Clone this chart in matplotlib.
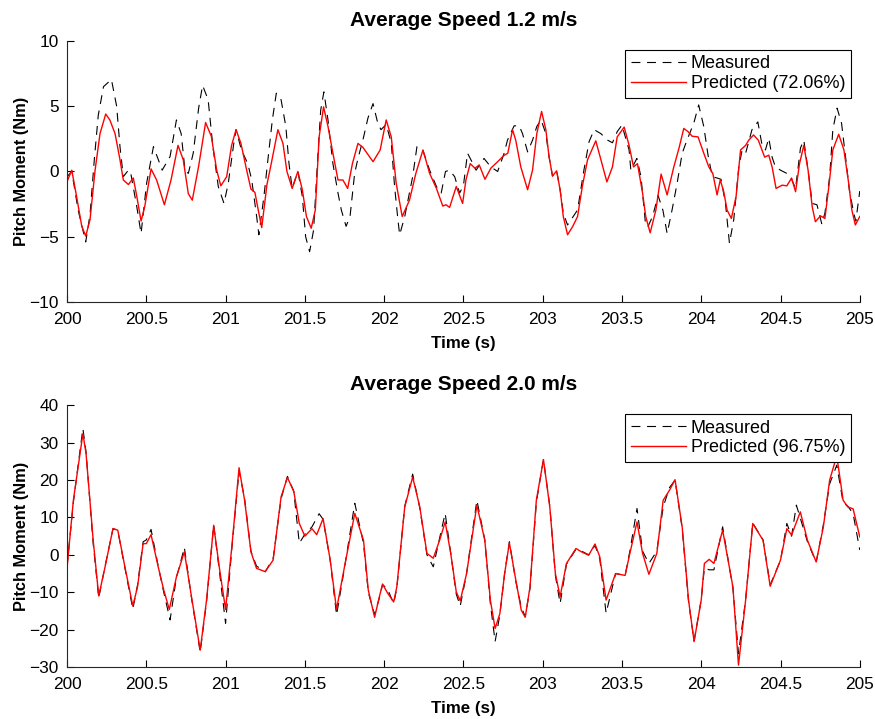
import matplotlib
matplotlib.use('Agg')
import matplotlib.pyplot as plt
import numpy as np

plt.rcParams['font.family'] = ['Liberation Sans', 'DejaVu Sans']

# --- top panel: average speed 1.2 m/s ---
t_meas1 = [200.000, 200.030, 200.070, 200.118, 200.145, 200.172, 200.197, 200.230, 200.280, 200.313,
           200.334, 200.355, 200.387, 200.400, 200.440, 200.467, 200.502, 200.545, 200.576, 200.600,
           200.650, 200.690, 200.720, 200.744, 200.765, 200.796, 200.830, 200.855, 200.890, 200.920,
           200.954, 200.990, 201.017, 201.050, 201.066, 201.100, 201.140, 201.165, 201.196, 201.210,
           201.242, 201.267, 201.295, 201.320, 201.350, 201.380, 201.400, 201.420, 201.456, 201.484,
           201.505, 201.530, 201.555, 201.583, 201.600, 201.620, 201.646, 201.677, 201.709, 201.730,
           201.760, 201.785, 201.814, 201.835, 201.866, 201.898, 201.930, 201.960, 201.980, 202.013,
           202.045, 202.066, 202.087, 202.098, 202.130, 202.180, 202.207, 202.245, 202.287, 202.330,
           202.360, 202.387, 202.413, 202.445, 202.476, 202.500, 202.526, 202.560, 202.580, 202.630,
           202.673, 202.716, 202.757, 202.778, 202.820, 202.852, 202.873, 202.905, 202.936, 202.963,
           202.990, 203.020, 203.040, 203.062, 203.088, 203.110, 203.130, 203.157, 203.220, 203.260,
           203.293, 203.325, 203.367, 203.410, 203.440, 203.470, 203.500, 203.545, 203.556, 203.594,
           203.620, 203.650, 203.665, 203.693, 203.728, 203.758, 203.785, 203.816, 203.848, 203.880,
           203.910, 203.953, 203.984, 204.016, 204.043, 204.070, 204.100, 204.125, 204.153, 204.178,
           204.205, 204.237, 204.258, 204.280, 204.320, 204.357, 204.384, 204.405, 204.426, 204.447,
           204.468, 204.500, 204.540, 204.563, 204.595, 204.626, 204.647, 204.674, 204.700, 204.730,
           204.760, 204.780, 204.810, 204.830, 204.857, 204.885, 204.910, 204.934, 204.962, 204.975,
           205.000]
v_meas1 = [-0.4, 0.0, -2.95, -5.4, -3.3, 0.9, 4.3, 6.5, 7.05, 5.0,
           1.9, -0.4, 0.1, 0.0, -2.7, -4.75, -0.9, 1.9, 0.9, 0.1,
           1.15, 3.95, 2.9, 0.1, -0.15, 1.4, 4.85, 6.6, 5.5, 1.9,
           -1.15, -2.45, -0.9, 2.0, 3.2, 1.65, 0.6, -0.65, -3.45, -4.85,
           -1.9, 0.9, 3.95, 6.0, 5.5, 3.45, 0.6, -1.3, 0.0, -1.9,
           -5.0, -6.15, -4.5, 1.4, 4.7, 6.1, 3.95, 0.6, -1.65, -2.95,
           -4.2, -3.45, -0.15, 1.0, 2.4, 4.1, 5.2, 3.7, 3.2, 3.6,
           2.2, -1.15, -3.7, -4.85, -3.45, -0.4, 1.9, 1.6, 0.1, -1.15,
           -1.65, 0.0, 0.1, -0.4, -1.65, -1.1, 1.4, 0.6, 0.1, 1.0,
           0.35, 0.0, 1.4, 2.4, 3.5, 3.5, 2.9, 1.5, 2.4, 3.45,
           3.95, 2.9, 1.15, -0.35, 0.05, -1.4, -3.2, -4.1, -2.95, 0.1,
           2.3, 3.2, 2.9, 2.4, 2.2, 3.05, 3.55, 1.65, 0.1, 1.0,
           -0.4, -4.2, -4.2, -3.45, -1.85, -2.95, -4.75, -2.95, -0.9, 1.4,
           2.4, 3.7, 5.1, 3.45, 1.25, -0.4, -0.5, -0.6, -2.45, -5.5,
           -3.7, 0.35, 1.65, 1.4, 3.2, 3.8, 2.0, 1.65, 2.55, 1.1,
           0.35, 0.1, -0.15, -0.4, -1.3, 1.8, 2.4, 0.1, -2.45, -2.55,
           -4.0, -3.2, -0.4, 3.2, 4.85, 3.7, 1.15, -1.4, -3.2, -3.8,
           -1.5]

t_pred1 = [200.000, 200.030, 200.060, 200.093, 200.118, 200.145, 200.177, 200.208, 200.244, 200.270,
           200.303, 200.334, 200.355, 200.387, 200.418, 200.440, 200.467, 200.490, 200.530, 200.565,
           200.614, 200.656, 200.700, 200.733, 200.765, 200.790, 200.830, 200.874, 200.910, 200.944,
           200.970, 201.007, 201.038, 201.066, 201.097, 201.133, 201.160, 201.185, 201.206, 201.228,
           201.261, 201.288, 201.330, 201.362, 201.387, 201.420, 201.456, 201.484, 201.510, 201.540,
           201.566, 201.590, 201.618, 201.646, 201.677, 201.709, 201.740, 201.770, 201.800, 201.835,
           201.866, 201.930, 201.975, 202.013, 202.045, 202.076, 202.114, 202.160, 202.200, 202.245,
           202.287, 202.330, 202.370, 202.390, 202.413, 202.455, 202.495, 202.516, 202.543, 202.573,
           202.600, 202.636, 202.673, 202.716, 202.753, 202.780, 202.810, 202.830, 202.862, 202.905,
           202.936, 202.963, 202.993, 203.020, 203.040, 203.062, 203.088, 203.110, 203.130, 203.157,
           203.190, 203.220, 203.250, 203.283, 203.335, 203.367, 203.405, 203.440, 203.470, 203.514,
           203.545, 203.573, 203.598, 203.630, 203.650, 203.678, 203.714, 203.747, 203.785, 203.827,
           203.860, 203.890, 203.917, 203.943, 203.980, 204.016, 204.048, 204.073, 204.100, 204.120,
           204.142, 204.163, 204.190, 204.220, 204.248, 204.280, 204.300, 204.330, 204.360, 204.400,
           204.426, 204.447, 204.472, 204.510, 204.540, 204.570, 204.595, 204.620, 204.647, 204.674,
           204.700, 204.720, 204.752, 204.780, 204.805, 204.830, 204.867, 204.900, 204.930, 204.950,
           204.972, 205.000]
v_pred1 = [-0.78, 0.1, -1.9, -4.2, -4.95, -3.7, 0.1, 2.9, 4.4, 3.95,
           2.9, 0.9, -0.65, -1.0, -0.5, -1.9, -3.8, -2.7, 0.2, -0.65,
           -2.55, -0.65, 2.0, 0.9, -1.7, -2.2, 0.4, 3.75, 2.7, 0.1,
           -1.1, -0.4, 2.0, 3.2, 2.15, 0.1, -1.35, -1.6, -2.95, -4.3,
           -1.0, 0.6, 3.2, 2.15, 0.0, -1.3, 0.0, -1.4, -3.45, -4.35,
           -2.95, 2.65, 4.95, 3.45, 1.4, -0.65, -0.65, -1.3, 0.6, 2.15,
           1.85, 0.75, 1.65, 3.95, 2.65, -0.9, -3.45, -2.2, -0.15, 1.65,
           -0.15, -1.3, -2.65, -2.55, -2.75, -1.15, -2.45, -0.65, 0.6, 0.25,
           0.5, -0.6, 0.25, 0.75, 1.2, 1.4, 3.2, 2.4, 0.35, -1.4,
           0.1, 2.9, 4.6, 3.2, 1.15, -0.35, 0.05, -1.4, -3.45, -4.85,
           -4.2, -3.45, -1.15, 0.9, 2.35, 0.9, -0.8, 0.35, 2.65, 3.4,
           2.0, 0.35, 0.6, -1.65, -3.45, -4.7, -2.95, -0.2, -1.8, 0.35,
           1.8, 3.3, 3.05, 2.7, 2.65, 1.4, 0.35, -0.15, -1.8, -0.65,
           -1.55, -2.95, -3.6, -1.9, 1.65, 2.0, 2.4, 2.8, 2.4, 1.1,
           1.25, 0.35, -1.3, -1.05, -1.1, -0.5, -1.55, 0.6, 2.0, 0.1,
           -2.7, -3.85, -3.4, -3.6, -1.15, 1.65, 2.85, 1.65, -0.9, -2.95,
           -4.1, -3.45]

# --- bottom panel: average speed 2.0 m/s ---
t_pred2 = [200.00, 200.04, 200.07, 200.10, 200.12, 200.165, 200.20, 200.24, 200.29, 200.32,
           200.365, 200.415, 200.445, 200.48, 200.50, 200.53, 200.575, 200.61, 200.645, 200.69,
           200.71, 200.74, 200.785, 200.84, 200.88, 200.925, 200.96, 201.00, 201.04, 201.085,
           201.12, 201.16, 201.195, 201.25, 201.30, 201.35, 201.39, 201.43, 201.465, 201.50,
           201.545, 201.575, 201.615, 201.66, 201.70, 201.75, 201.815, 201.87, 201.90, 201.94,
           201.97, 201.99, 202.02, 202.06, 202.08, 202.13, 202.18, 202.225, 202.27, 202.31,
           202.35, 202.385, 202.42, 202.455, 202.48, 202.52, 202.585, 202.635, 202.67, 202.70,
           202.73, 202.76, 202.79, 202.83, 202.865, 202.89, 202.92, 202.96, 203.005, 203.045,
           203.08, 203.11, 203.15, 203.21, 203.245, 203.29, 203.33, 203.36, 203.40, 203.46,
           203.52, 203.55, 203.595, 203.63, 203.67, 203.72, 203.76, 203.80, 203.835, 203.88,
           203.92, 203.955, 204.00, 204.02, 204.05, 204.08, 204.135, 204.20, 204.235, 204.28,
           204.325, 204.39, 204.435, 204.50, 204.54, 204.57, 204.625, 204.67, 204.725, 204.77,
           204.81, 204.855, 204.895, 204.925, 204.958, 205.00]
v_pred2 = [-3.6, 14.6, 23.5, 32.4, 27.1, 3.9, -11.0, -3.2, 7.05, 6.6,
           -3.2, -13.7, -8.5, 3.0, 3.0, 5.4, -3.2, -9.4, -14.6, -5.9,
           -3.2, 0.8, -11.2, -25.5, -12.1, 7.9, -3.2, -14.6, 2.4, 23.3,
           14.6, 0.8, -3.6, -4.5, -1.4, 15.5, 20.7, 17.0, 8.4, 5.0,
           7.0, 5.4, 9.7, -1.4, -14.6, -3.2, 11.1, 3.9, -9.4, -16.7,
           -11.2, -7.8, -10.1, -12.6, -8.6, 12.8, 20.8, 12.8, 0.4, -0.9,
           3.9, 8.8, 0.4, -9.9, -12.3, -5.0, 13.3, 3.9, -12.1, -19.7,
           -15.7, -5.0, 3.2, -6.6, -14.8, -16.7, -8.6, 14.6, 25.5, 12.8,
           -5.0, -11.2, -2.3, 1.7, 0.8, -0.1, 2.9, -0.5, -12.1, -5.0,
           -5.5, 0.4, 8.8, 0.4, -5.2, 0.4, 14.6, 17.3, 20.1, 7.4,
           -12.1, -23.2, -12.1, -2.3, -1.2, -2.3, 6.6, -8.6, -29.5, -12.1,
           8.4, 3.9, -8.4, -1.4, 7.0, 5.3, 11.5, 3.9, -1.9, 7.4,
           20.0, 26.5, 14.6, 12.8, 12.3, 4.8]

t_meas2 = [200.00, 200.04, 200.07, 200.10, 200.12, 200.165, 200.20, 200.24, 200.29, 200.32,
           200.365, 200.415, 200.445, 200.48, 200.50, 200.53, 200.575, 200.61, 200.65, 200.69,
           200.71, 200.74, 200.785, 200.84, 200.88, 200.925, 200.96, 201.00, 201.04, 201.085,
           201.12, 201.16, 201.195, 201.25, 201.30, 201.35, 201.39, 201.43, 201.465, 201.50,
           201.545, 201.59, 201.615, 201.66, 201.70, 201.75, 201.815, 201.87, 201.90, 201.94,
           201.97, 201.99, 202.02, 202.06, 202.08, 202.13, 202.18, 202.225, 202.27, 202.31,
           202.35, 202.385, 202.42, 202.455, 202.48, 202.52, 202.585, 202.635, 202.67, 202.70,
           202.73, 202.76, 202.79, 202.83, 202.865, 202.89, 202.92, 202.96, 203.005, 203.045,
           203.08, 203.11, 203.15, 203.21, 203.245, 203.29, 203.33, 203.36, 203.40, 203.46,
           203.52, 203.55, 203.595, 203.63, 203.67, 203.72, 203.76, 203.80, 203.835, 203.88,
           203.92, 203.955, 204.00, 204.02, 204.05, 204.08, 204.135, 204.20, 204.235, 204.28,
           204.325, 204.39, 204.435, 204.50, 204.54, 204.57, 204.60, 204.67, 204.725, 204.77,
           204.81, 204.855, 204.895, 204.925, 204.958, 205.00]
v_meas2 = [-3.0, 14.0, 24.0, 33.8, 27.5, 3.0, -11.5, -3.0, 7.0, 6.5,
           -3.5, -14.5, -8.0, 3.5, 4.0, 6.8, -3.0, -10.0, -17.4, -6.0,
           -3.0, 2.0, -11.5, -26.0, -12.5, 8.0, -4.0, -18.3, 2.0, 22.5,
           15.0, 1.0, -3.0, -4.5, -1.0, 15.0, 21.0, 17.0, 3.1, 5.5,
           7.5, 11.0, 9.5, -1.5, -16.1, -3.5, 13.8, 3.0, -10.0, -16.0,
           -11.5, -8.0, -9.0, -13.0, -9.0, 13.0, 21.6, 12.5, 0.0, -3.2,
           4.5, 11.1, 0.5, -10.5, -13.7, -5.0, 14.6, 4.0, -13.0, -23.2,
           -16.0, -5.0, 3.5, -7.0, -14.0, -16.5, -9.0, 14.0, 25.5, 13.0,
           -5.5, -13.0, -2.5, 1.5, 1.0, 0.0, 2.5, -1.0, -15.6, -5.0,
           -5.5, 1.0, 12.4, 1.0, -2.3, 1.0, 12.8, 18.0, 20.0, 7.0,
           -12.5, -23.0, -12.0, -3.5, -4.0, -4.0, 7.5, -9.0, -26.4, -12.0,
           8.5, 4.0, -8.0, -1.5, 8.4, 5.0, 13.3, 3.5, -2.0, 8.0,
           19.0, 24.0, 14.0, 13.0, 11.0, 1.3]

panels = [
    ('Average Speed 1.2 m/s', t_meas1, v_meas1, t_pred1, v_pred1, '72.06%', (-10, 10), 5),
    ('Average Speed 2.0 m/s', t_meas2, v_meas2, t_pred2, v_pred2, '96.75%', (-30, 40), 10),
]
x_ticks = np.arange(200, 205.01, 0.5)
x_ticklabels = ['200', '200.5', '201', '201.5', '202', '202.5', '203', '203.5', '204', '204.5', '205']

fig = plt.figure(figsize=(8.75, 7.19), dpi=100)
rects = [[0.0766, 0.580, 0.906, 0.363], [0.0766, 0.0723, 0.906, 0.364]]

for rect, (title, tm, vm, tp, vp, fit, ylim, ystep) in zip(rects, panels):
    ax = fig.add_axes(rect)
    ax.plot(tm, vm, color='black', linestyle=(0, (8, 6)), linewidth=0.8, label='Measured')
    ax.plot(tp, vp, color='red', linewidth=1.0, label='Predicted (%s)' % fit)
    ax.set_xlim(200, 205)
    ax.set_ylim(*ylim)
    ax.set_xticks(x_ticks)
    ax.set_xticklabels(x_ticklabels)
    ax.set_yticks(np.arange(ylim[0], ylim[1] + 0.1, ystep))
    ax.tick_params(direction='in', length=5, width=0.8, labelsize=12.4)
    ax.tick_params(axis='x', pad=7)
    ax.tick_params(axis='y', pad=6)
    ax.spines['top'].set_visible(False)
    ax.spines['right'].set_visible(False)
    for s in ('left', 'bottom'):
        ax.spines[s].set_linewidth(0.8)
        ax.spines[s].set_color('#262626')
    ax.set_title(title, fontsize=15, fontweight='bold', pad=11)
    ax.set_xlabel('Time (s)', fontsize=12.2, fontweight='bold', labelpad=7)
    ax.set_ylabel('Pitch Moment (Nm)', fontsize=11.8, fontweight='bold')
    ax.yaxis.set_label_coords(-0.048, 0.5)
    leg = ax.legend(loc='upper right', fontsize=13, handlelength=3.05, handletextpad=0.28,
                    borderaxespad=0.5, fancybox=False, framealpha=1, borderpad=0.3,
                    labelspacing=0.15)
    leg.get_frame().set_edgecolor('black')
    leg.get_frame().set_linewidth(0.8)

fig.savefig('out.png', dpi=100)
